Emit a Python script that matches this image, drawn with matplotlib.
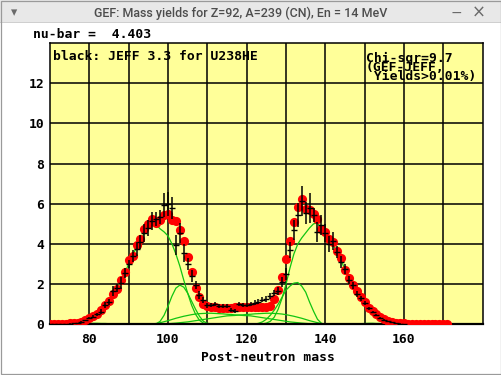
import numpy as np
import matplotlib
matplotlib.use("Agg")
import matplotlib.pyplot as plt
from matplotlib.patches import Rectangle

# ---------------- data ----------------
masses = list(range(70, 172))  # mass numbers for GEF curves

gef_yield = [0.02, 0.02, 0.02, 0.02, 0.03, 0.04, 0.05, 0.08, 0.13, 0.21,
             0.32, 0.42, 0.53, 0.70, 0.98, 1.17, 1.52, 1.78, 2.20, 2.58,
             3.20, 3.38, 3.95, 4.23, 4.73, 5.00, 5.25, 5.03, 5.20, 5.45,
             5.50, 5.20, 5.15, 4.70, 4.15, 3.37, 2.60, 1.80, 1.37, 1.03,
             0.90, 0.86, 0.84, 0.83, 0.82, 0.82, 0.83, 0.84, 0.85, 0.85,
             0.85, 0.85, 0.84, 0.84, 0.86, 0.87, 0.92, 1.27, 1.73, 2.33,
             3.25, 4.15, 5.08, 5.83, 6.23, 5.75, 5.70, 5.48, 5.23, 4.73,
             4.58, 4.23, 4.08, 3.67, 3.32, 2.70, 2.28, 1.98, 1.67, 1.37,
             1.12, 0.83, 0.65, 0.50, 0.37, 0.25, 0.17, 0.12, 0.08, 0.05,
             0.04, 0.03, 0.02, 0.02, 0.02, 0.02, 0.02, 0.02, 0.02, 0.02,
             0.02, 0.02]

# green mode components (start mass, values)
s2_light_start = 79
s2_light = [0.20, 0.30, 0.40, 0.50, 0.65, 0.90, 1.10, 1.45, 1.75, 2.15,
            2.55, 3.00, 3.40, 3.85, 4.20, 4.55, 4.85, 5.00, 4.95, 4.75,
            4.60, 4.40, 4.00, 3.50, 2.90, 2.20, 1.55, 0.95, 0.50, 0.20,
            0.06, 0.00]
s2_heavy_start = 124
s2_heavy = [0.02, 0.06, 0.15, 0.35, 0.75, 1.30, 2.00, 2.80, 3.50, 4.00,
            4.30, 4.55, 4.80, 5.00, 5.05, 4.75, 4.50, 4.20, 3.95, 3.60,
            3.20, 2.70, 2.30, 1.95, 1.60, 1.30, 1.05, 0.80, 0.60, 0.45,
            0.33, 0.22, 0.15, 0.10, 0.06, 0.03, 0.01]
s1_light_start = 97
s1_light = [0.02, 0.15, 0.45, 0.90, 1.40, 1.80, 1.95, 1.85, 1.55, 1.15,
            0.75, 0.40, 0.15, 0.05, 0.02]
s1_heavy_start = 123
s1_heavy = [0.05, 0.12, 0.25, 0.45, 0.70, 1.00, 1.35, 1.70, 1.90, 2.05,
            2.08, 1.90, 1.60, 1.10, 0.65, 0.25, 0.05]
# broad low components crossing in the symmetric valley
b_light_start = 95
b_light = [0.01, 0.02, 0.04, 0.08, 0.13, 0.18, 0.24, 0.30, 0.35, 0.40,
           0.44, 0.48, 0.51, 0.53, 0.54, 0.55, 0.55, 0.54, 0.53, 0.52,
           0.50, 0.49, 0.47, 0.46, 0.44, 0.43, 0.42, 0.39, 0.36, 0.33,
           0.30, 0.27, 0.24, 0.21, 0.18, 0.15, 0.12, 0.10, 0.08, 0.06,
           0.045, 0.03, 0.02, 0.01]
b_heavy_start = 98
b_heavy = [0.01, 0.02, 0.03, 0.045, 0.06, 0.08, 0.10, 0.12, 0.15, 0.18,
           0.21, 0.24, 0.27, 0.30, 0.33, 0.36, 0.39, 0.42, 0.43, 0.44,
           0.46, 0.47, 0.49, 0.50, 0.52, 0.53, 0.54, 0.55, 0.55, 0.54,
           0.53, 0.51, 0.48, 0.44, 0.40, 0.35, 0.30, 0.24, 0.18, 0.13,
           0.08, 0.04, 0.02, 0.01]
# very small asymmetric components near zero
s3_light_start = 76
s3_light = [0.01, 0.02, 0.03, 0.04, 0.04, 0.05, 0.05, 0.04, 0.04, 0.03,
            0.02, 0.01]
s3_heavy_start = 147
s3_heavy = [0.01, 0.02, 0.03, 0.04, 0.05, 0.05, 0.04, 0.04, 0.03, 0.02,
            0.01]

# JEFF-3.3 evaluated yields (black error bars)
jeff_mass = list(range(70, 161))
jeff_yield = [0.01, 0.01, 0.01, 0.02, 0.02, 0.03, 0.04, 0.06, 0.12, 0.20,
              0.30, 0.38, 0.50, 0.62, 0.95, 1.10, 1.65, 1.80, 2.05, 2.55,
              3.00, 3.40, 3.75, 4.10, 4.55, 4.80, 5.15, 5.25, 5.35, 5.95,
              6.00, 5.80, 3.95, 4.55, 3.55, 3.00, 2.40, 1.95, 1.45, 1.20,
              0.95, 0.98, 1.03, 0.90, 0.93, 0.93, 0.70, 0.67, 1.03, 0.95,
              0.98, 1.03, 1.07, 1.12, 1.23, 1.28, 1.40, 1.57, 1.67, 2.10,
              2.50, 3.70, 4.70, 5.45, 6.15, 5.55, 5.80, 5.45, 4.60, 4.95,
              4.55, 4.00, 4.15, 3.60, 3.10, 2.75, 2.20, 1.95, 1.50, 1.30,
              1.05, 0.80, 0.60, 0.45, 0.33, 0.22, 0.14, 0.09, 0.05, 0.03,
              0.02]
jeff_err = [0.005, 0.005, 0.005, 0.005, 0.01, 0.01, 0.01, 0.01, 0.02, 0.03,
            0.05, 0.06, 0.07, 0.12, 0.15, 0.14, 0.25, 0.20, 0.30, 0.25,
            0.20, 0.30, 0.35, 0.35, 0.45, 0.40, 0.45, 0.35, 0.35, 0.60,
            0.60, 0.55, 0.50, 0.50, 0.45, 0.30, 0.30, 0.20, 0.20, 0.15,
            0.12, 0.10, 0.10, 0.10, 0.10, 0.10, 0.10, 0.10, 0.10, 0.10,
            0.10, 0.10, 0.12, 0.12, 0.12, 0.15, 0.15, 0.15, 0.20, 0.25,
            0.30, 0.40, 0.50, 0.60, 0.75, 0.55, 0.75, 0.35, 0.50, 0.50,
            0.45, 0.40, 0.45, 0.30, 0.30, 0.25, 0.20, 0.18, 0.15, 0.12,
            0.10, 0.08, 0.06, 0.05, 0.04, 0.03, 0.02, 0.02, 0.01, 0.01,
            0.01]

x_ticks = [80, 100, 120, 140, 160]
y_ticks = [0, 2, 4, 6, 8, 10, 12]

window_title = "GEF: Mass yields for Z=92, A=239 (CN), En = 14 MeV"
nubar_text = "nu-bar =  4.403"
legend_text = "black: JEFF 3.3 for U238HE"
chi_text = "Chi-sqr=9.7\n(GEF-JEFF,\n Yields>0.01%)"
x_label = "Post-neutron mass"


def component(start, vals):
    full = np.zeros(len(masses))
    i0 = masses.index(start)
    full[i0:i0 + len(vals)] = vals
    return full


# ---------------- figure ----------------
W, H = 502, 375
fig = plt.figure(figsize=(W / 100, H / 100), dpi=100)
fig.patch.set_facecolor("white")


def px(x, y):
    return x / W, 1 - y / H


# window chrome
fig.patches.append(Rectangle((0, 1 - 22 / H), 1, 22 / H, transform=fig.transFigure,
                             facecolor="#e8e8e8", edgecolor="none", zorder=0))
fig.patches.append(Rectangle((0, 1 - 22.5 / H), 1, 0.6 / H, transform=fig.transFigure,
                             facecolor="#cfcfcf", edgecolor="none", zorder=1))
fig.patches.append(Rectangle((0.5 / W, 1.5 / H), 1 - 1.5 / W, 1 - 2.5 / H, transform=fig.transFigure,
                             facecolor="none", edgecolor="#9a9a9a", linewidth=0.9, zorder=2))

mono = "DejaVu Sans Mono"
FS = 9.4
t_title = fig.text(*px(240.5, 13), window_title, ha="center", va="center",
                   fontsize=9, color="#4d4d4d", family="Roboto", weight="medium")
fig.text(*px(14, 13), "\u25be", ha="center", va="center", fontsize=9, color="#6a6a6a")
fig.text(*px(456, 12.5), "\u2212", ha="center", va="center", fontsize=10, color="#6a6a6a")
fig.text(*px(479, 12.5), "\u00d7", ha="center", va="center", fontsize=12, color="#6a6a6a")

fig.text(*px(33, 35), nubar_text, ha="left", va="center", fontsize=FS, family=mono, weight="bold")

# axes
ax_l, ax_r, ax_t, ax_b = 50, 482.7, 43, 324.3
ax = fig.add_axes([ax_l / W, 1 - ax_b / H, (ax_r - ax_l) / W, (ax_b - ax_t) / H])
ax.set_facecolor("#ffff99")
ax.set_xlim(70, 180)
ax.set_ylim(0, 14)

for gx in range(80, 180, 10):
    ax.axvline(gx, color="black", lw=1.1, zorder=1)
for gy in range(2, 14, 2):
    ax.axhline(gy, color="black", lw=1.1, zorder=1)

green = "#11c411"
for start, vals in [(s3_light_start, s3_light), (s3_heavy_start, s3_heavy),
                    (b_light_start, b_light), (b_heavy_start, b_heavy),
                    (s1_light_start, s1_light), (s1_heavy_start, s1_heavy),
                    (s2_light_start, s2_light), (s2_heavy_start, s2_heavy)]:
    ax.plot(masses, component(start, vals), color=green, lw=0.9, zorder=2)

ax.plot(masses, gef_yield, "o", color="#ff0000", ms=6.6, mec="none", zorder=3)

ax.errorbar(jeff_mass, jeff_yield, yerr=jeff_err, fmt="_", color="black",
            ms=4, mew=1.0, elinewidth=1.1, capsize=0, zorder=4)

for s in ["left", "right", "top"]:
    ax.spines[s].set_linewidth(1.1)
ax.spines["bottom"].set_linewidth(1.6)

ax.set_xticks(x_ticks)
ax.set_yticks(y_ticks)
ax.tick_params(length=0)
ax.tick_params(axis="y", pad=4)
ax.tick_params(axis="x", pad=6)
for lab in ax.get_xticklabels() + ax.get_yticklabels():
    lab.set_family(mono)
    lab.set_weight("bold")
    lab.set_fontsize(FS)

fig.text(*px(268, 357.5), x_label, ha="center", va="center", fontsize=FS, family=mono, weight="bold")

fig.text(*px(53, 57), legend_text, ha="left", va="center",
         fontsize=FS, family=mono, weight="bold")
fig.text(*px(366, 52), chi_text, ha="left", va="top",
         fontsize=FS, family=mono, weight="bold", linespacing=0.62)

# fit title width to reference (~293 px)
fig.canvas.draw()
r = fig.canvas.get_renderer()
wt = t_title.get_window_extent(r).width
t_title.set_fontsize(9 * 293 / wt)

fig.savefig("out.png", dpi=100)
